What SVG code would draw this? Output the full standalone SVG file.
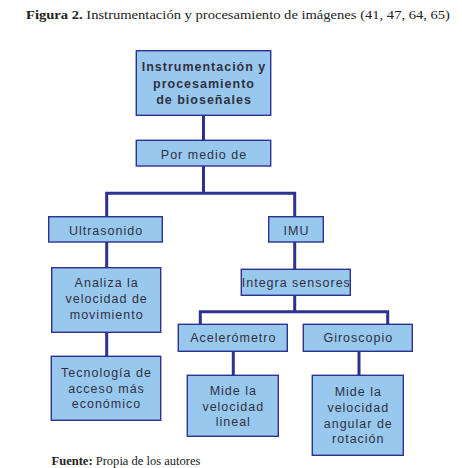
<svg xmlns="http://www.w3.org/2000/svg" width="462" height="468" viewBox="0 0 462 468">
<style>
.box{fill:#99c8ef;stroke:#2e3192;stroke-width:1.4}
.t{font-family:"Liberation Sans",Arial,sans-serif;font-size:12.5px;letter-spacing:1px;fill:#2f3040;text-anchor:middle}
.b{font-weight:bold}
.c{fill:none;stroke:#2e3192;stroke-width:3}
.cap{font-family:"Liberation Serif","Times New Roman",serif;font-size:13.5px;fill:#222}
</style>
<rect width="462" height="468" fill="#fff"/>
<text class="cap" x="26" y="19" textLength="424" lengthAdjust="spacingAndGlyphs"><tspan font-weight="bold">Figura 2.</tspan> Instrumentación y procesamiento de imágenes (41, 47, 64, 65)</text>
<g id="connectors">
<path class="c" d="M203.5 115.3V140.3"/>
<path class="c" d="M203.5 166V193.3M106.7 216.7V193.3H294.7V216.7"/>
<path class="c" d="M106.7 242V267.7"/>
<path class="c" d="M106.7 332.3V356.3"/>
<path class="c" d="M294.7 242V269.3"/>
<path class="c" d="M294.7 295.3V311.7M200.3 324.3V311.7H387.7V324.3"/>
<path class="c" d="M233.3 351.3V375.3"/>
<path class="c" d="M359 351.3V375.3"/>
</g>
<g id="n-top"><rect class="box" x="136.3" y="50.7" width="134.4" height="64.6"/>
<text class="t b" x="204" y="71">Instrumentación y</text>
<text class="t b" x="204" y="87.5">procesamiento</text>
<text class="t b" x="204" y="104">de bioseñales</text></g>
<g id="n-por"><rect class="box" x="136.3" y="140.3" width="134.4" height="25.7"/>
<text class="t" x="204" y="158.5">Por medio de</text></g>
<g id="n-ultra"><rect class="box" x="48.7" y="216.7" width="113.6" height="25.3"/>
<text class="t" x="106" y="234.5">Ultrasonido</text></g>
<g id="n-imu"><rect class="box" x="268.7" y="216.7" width="54.6" height="25.3"/>
<text class="t" x="296.5" y="235">IMU</text></g>
<g id="n-analiza"><rect class="box" x="51.7" y="267.7" width="109" height="64.6"/>
<text class="t" x="106.7" y="287">Analiza la</text>
<text class="t" x="106.7" y="303">velocidad de</text>
<text class="t" x="106.7" y="318.5">movimiento</text></g>
<g id="n-integra"><rect class="box" x="241.3" y="269.3" width="109" height="26"/>
<text class="t" x="296.3" y="287">Integra sensores</text></g>
<g id="n-acel"><rect class="box" x="178.3" y="324.3" width="109" height="27"/>
<text class="t" x="233.3" y="342">Acelerómetro</text></g>
<g id="n-giro"><rect class="box" x="303.3" y="324.3" width="109" height="27"/>
<text class="t" x="358.3" y="342">Giroscopio</text></g>
<g id="n-tec"><rect class="box" x="51.3" y="356.3" width="109.4" height="64"/>
<text class="t" x="106.5" y="377">Tecnología de</text>
<text class="t" x="106.5" y="393">acceso más</text>
<text class="t" x="106.5" y="408">económico</text></g>
<g id="n-lineal"><rect class="box" x="187.3" y="375.3" width="91" height="61"/>
<text class="t" x="233.3" y="394.5">Mide la</text>
<text class="t" x="233.3" y="410.5">velocidad</text>
<text class="t" x="233.3" y="426">lineal</text></g>
<g id="n-angular"><rect class="box" x="312.3" y="375.3" width="91" height="80"/>
<text class="t" x="358.3" y="396">Mide la</text>
<text class="t" x="358.3" y="412">velocidad</text>
<text class="t" x="358.3" y="427.5">angular de</text>
<text class="t" x="358.3" y="443">rotación</text></g>
<text class="cap" x="51.5" y="464.5" font-size="12" textLength="149" lengthAdjust="spacingAndGlyphs"><tspan font-weight="bold">Fuente:</tspan> Propia de los autores</text>
</svg>
